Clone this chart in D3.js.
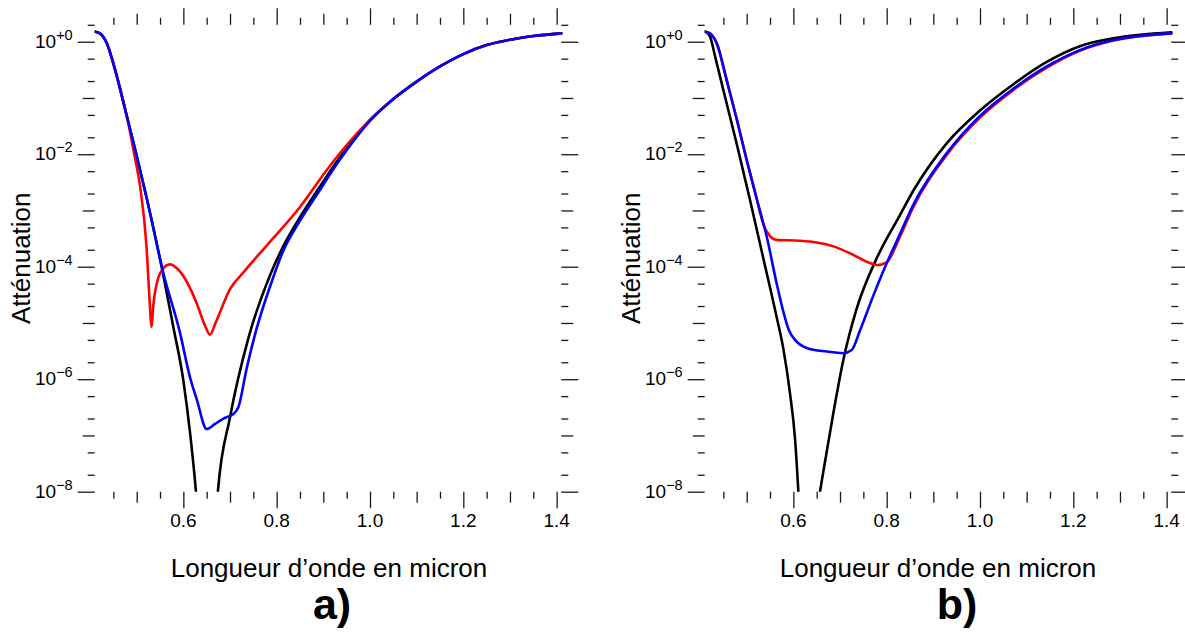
<!DOCTYPE html>
<html><head><meta charset="utf-8">
<script src="https://cdn.jsdelivr.net/npm/d3@7"></script>
<style>
html,body{margin:0;padding:0;background:#fff;}
svg{display:block;font-family:"Liberation Sans",Arial,Helvetica,sans-serif;}
</style></head>
<body>
<svg id="chart" width="1185" height="639"></svg>
<script>
// ---------- DATA ----------
const xTickMajor = [0.6, 0.8, 1.0, 1.2, 1.4];
const xTickLabels = ["0.6", "0.8", "1.0", "1.2", "1.4"];
const xTickMid = [0.5, 0.7, 0.9, 1.1, 1.3];
const xTickMinor = [0.45, 0.55, 0.65, 0.75, 0.85, 0.95, 1.05, 1.15, 1.25, 1.35];
const yTickMajor = [1e0, 1e-2, 1e-4, 1e-6, 1e-8];
const yTickExp = ["+0", "\u22122", "\u22124", "\u22126", "\u22128"];
const yTickMid = [1e-1, 1e-3, 1e-5, 1e-7];
const yTickMinor = [2, 0.5, 0.2, 0.05, 0.02, 5e-3, 2e-3, 5e-4, 2e-4, 5e-5, 2e-5, 5e-6, 2e-6, 5e-7, 2e-7, 5e-8, 2e-8];
const xTitle = "Longueur d\u2019onde en micron";
const yTitle = "Att\u00e9nuation";

// panel a)
const aBlackLeftLambda = [0.411, 0.421, 0.436, 0.450, 0.479, 0.499, 0.522, 0.554, 0.578, 0.600, 0.615, 0.627, 0.636];
const aBlackLeftAtt    = [1.51, 1.41, 0.94, 0.41, 0.047, 0.0102, 0.00158, 9.5e-5, 8.9e-6, 9.5e-7, 1.0e-7, 1.0e-8, 1.0e-9];
const aBlackRightLambda = [0.664, 0.674, 0.700, 0.740, 0.786, 0.814, 0.850, 0.886, 0.907, 0.936, 0.957, 0.972, 1.000, 1.050, 1.100, 1.150, 1.200, 1.250, 1.307, 1.350, 1.410];
const aBlackRightAtt    = [5e-10, 1.0e-8, 2.1e-7, 5.6e-6, 7.1e-5, 2.3e-4, 7.6e-4, 2.2e-3, 4.0e-3, 8.9e-3, 0.0148, 0.0219, 0.0407, 0.0955, 0.195, 0.363, 0.603, 0.871, 1.11, 1.26, 1.41];
const aBlueLambda = [0.411, 0.421, 0.436, 0.450, 0.479, 0.499, 0.522, 0.557, 0.593, 0.614, 0.629, 0.650, 0.668, 0.686, 0.707, 0.718, 0.736, 0.757, 0.786, 0.814, 0.850, 0.886, 0.936, 1.000, 1.050, 1.100, 1.150, 1.200, 1.250, 1.307, 1.350, 1.410];
const aBlueAtt    = [1.51, 1.41, 0.94, 0.41, 0.047, 0.0102, 0.00158, 7.8e-5, 6.6e-6, 1.1e-6, 4.3e-7, 1.3e-7, 1.6e-7, 2.0e-7, 2.4e-7, 3.2e-7, 1.6e-6, 7.9e-6, 4.5e-5, 1.9e-4, 6.6e-4, 1.9e-3, 8.1e-3, 0.039, 0.0955, 0.195, 0.363, 0.603, 0.871, 1.11, 1.26, 1.41];
const aRedLambda = [0.411, 0.421, 0.436, 0.450, 0.479, 0.496, 0.507, 0.5215, 0.5275, 0.532, 0.5357, 0.543, 0.554, 0.571, 0.596, 0.629, 0.646, 0.657, 0.670, 0.700, 0.7285, 0.779, 0.850, 0.907, 0.957, 1.000, 1.050, 1.100, 1.150, 1.200, 1.250, 1.307, 1.350, 1.410];
const aRedAtt    = [1.51, 1.41, 0.94, 0.41, 0.047, 8.9e-3, 2.8e-3, 2.0e-4, 2.6e-5, 8.5e-6, 2.1e-5, 5.0e-5, 8.7e-5, 1.1e-4, 7.6e-5, 2.2e-5, 9.1e-6, 6.2e-6, 1.05e-5, 4.0e-5, 7.9e-5, 2.4e-4, 1.15e-3, 5.2e-3, 0.0170, 0.0407, 0.0955, 0.195, 0.363, 0.603, 0.871, 1.11, 1.26, 1.41];

// panel b)
const bBlackLeftLambda = [0.411, 0.421, 0.432, 0.450, 0.479, 0.507, 0.5357, 0.5643, 0.5785, 0.5928, 0.6035, 0.6107, 0.618];
const bBlackLeftAtt    = [1.51, 1.26, 0.56, 0.138, 0.0148, 0.00155, 1.4e-4, 1.26e-5, 3.5e-6, 5.6e-7, 8.9e-8, 1.0e-8, 6.3e-10];
const bBlackRightLambda = [0.650, 0.657, 0.6857, 0.7071, 0.7357, 0.7786, 0.8285, 0.857, 0.929, 1.000, 1.071, 1.143, 1.214, 1.286, 1.410];
const bBlackRightAtt    = [4.5e-9, 1.0e-8, 2.5e-7, 2.2e-6, 1.8e-5, 1.41e-4, 8.3e-4, 2.24e-3, 0.0158, 0.060, 0.174, 0.437, 0.832, 1.148, 1.47];
const bBlueLambda = [0.411, 0.421, 0.436, 0.457, 0.479, 0.500, 0.522, 0.543, 0.5643, 0.5786, 0.590, 0.6036, 0.6286, 0.6714, 0.7071, 0.725, 0.743, 0.771, 0.800, 0.829, 0.857, 0.929, 1.000, 1.071, 1.143, 1.214, 1.286, 1.410];
const bBlueAtt    = [1.51, 1.41, 0.93, 0.21, 0.041, 0.0079, 0.00155, 3.4e-4, 5.0e-5, 1.58e-5, 7.6e-6, 5.0e-6, 3.6e-6, 3.1e-6, 2.9e-6, 3.3e-6, 7.4e-6, 3.0e-5, 1.15e-4, 3.9e-4, 1.26e-3, 0.0105, 0.048, 0.145, 0.363, 0.71, 1.07, 1.41];
const bRedLambda = [0.411, 0.421, 0.436, 0.457, 0.479, 0.500, 0.522, 0.536, 0.550, 0.564, 0.614, 0.650, 0.686, 0.721, 0.757, 0.7786, 0.800, 0.829, 0.857, 0.929, 1.000, 1.071, 1.143, 1.214, 1.286, 1.410];
const bRedAtt    = [1.51, 1.41, 0.93, 0.21, 0.041, 0.0079, 0.00155, 5.6e-4, 3.5e-4, 3.0e-4, 2.9e-4, 2.7e-4, 2.3e-4, 1.74e-4, 1.23e-4, 1.07e-4, 1.2e-4, 3.5e-4, 1.15e-3, 9.8e-3, 0.0447, 0.138, 0.347, 0.692, 1.05, 1.41];

// ---------- LAYOUT ----------
const yTop = 24.8, yBot = 491.7;
const panels = [
  { id: "a", x0: 94.7, x1: 561.3, caption: "a)", captionX: 332, titleX: 329,
    series: [
      { lam: aBlackLeftLambda, att: aBlackLeftAtt, color: "#000000" },
      { lam: aBlackRightLambda, att: aBlackRightAtt, color: "#000000" },
      { lam: aRedLambda, att: aRedAtt, color: "#ff0000" },
      { lam: aBlueLambda, att: aBlueAtt, color: "#0000ff" } ] },
  { id: "b", x0: 704.7, x1: 1171.3, caption: "b)", captionX: 957, titleX: 938,
    series: [
      { lam: bBlackLeftLambda, att: bBlackLeftAtt, color: "#000000" },
      { lam: bBlackRightLambda, att: bBlackRightAtt, color: "#000000" },
      { lam: bRedLambda, att: bRedAtt, color: "#ff0000" },
      { lam: bBlueLambda, att: bBlueAtt, color: "#0000ff" } ] }
];

const svg = d3.select("#chart");
const tickColor = "#1a1a1a";

function styleAxis(g) {
  g.select(".domain").remove();
  g.selectAll(".tick line").attr("stroke", tickColor).attr("stroke-width", 1.3);
  g.selectAll(".tick text").remove();
}

panels.forEach(p => {
  const x = d3.scaleLinear().domain([0.41, 1.41]).range([p.x0, p.x1]);
  const y = d3.scaleLog().domain([1e-8, 2]).range([yBot, yTop]);
  const g = svg.append("g");

  // ticks on all four sides (outward)
  const tickSets = [[xTickMajor, 16.5], [xTickMid, 11], [xTickMinor, 7]];
  tickSets.forEach(([vals, len]) => {
    g.append("g").attr("transform", `translate(0,${yBot})`)
      .call(d3.axisBottom(x).tickValues(vals).tickSize(len).tickFormat("")).call(styleAxis);
    g.append("g").attr("transform", `translate(0,${yTop})`)
      .call(d3.axisTop(x).tickValues(vals).tickSize(len).tickFormat("")).call(styleAxis);
  });
  const yTickSets = [[yTickMajor, 17], [yTickMid, 12], [yTickMinor, 7]];
  yTickSets.forEach(([vals, len]) => {
    g.append("g").attr("transform", `translate(${p.x0},0)`)
      .call(d3.axisLeft(y).tickValues(vals).tickSize(len).tickFormat("")).call(styleAxis);
    g.append("g").attr("transform", `translate(${p.x1},0)`)
      .call(d3.axisRight(y).tickValues(vals).tickSize(len).tickFormat("")).call(styleAxis);
  });

  // x tick labels
  g.selectAll(".xl").data(xTickMajor).enter().append("text")
    .attr("x", d => x(d)).attr("y", 527)
    .attr("text-anchor", "middle").attr("font-size", 19).attr("fill", "#000")
    .text((d, i) => xTickLabels[i]);

  // y tick labels 10^n
  yTickMajor.forEach((v, i) => {
    const t = g.append("text").attr("x", p.x0 - 22).attr("y", y(v) + 6)
      .attr("text-anchor", "end").attr("font-size", 19).attr("fill", "#000");
    t.append("tspan").text("10");
    t.append("tspan").attr("dy", -8).attr("font-size", 14.5).text(yTickExp[i]);
  });

  // axis titles
  g.append("text").attr("x", p.titleX).attr("y", 577).attr("text-anchor", "middle")
    .attr("font-size", 26).attr("fill", "#000").text(xTitle);
  g.append("text").attr("transform", `translate(${p.x0 - 65},${(yTop + yBot) / 2}) rotate(-90)`)
    .attr("text-anchor", "middle").attr("font-size", 26).attr("fill", "#000").text(yTitle);
  g.append("text").attr("x", p.captionX).attr("y", 619).attr("text-anchor", "middle")
    .attr("font-size", 43).attr("font-weight", "bold").attr("fill", "#000").text(p.caption);

  // clip
  svg.append("clipPath").attr("id", "clip-" + p.id).append("rect")
    .attr("x", p.x0).attr("y", yTop - 10).attr("width", p.x1 - p.x0 + 3).attr("height", yBot - yTop + 10);

  const line = d3.line().x(d => x(d[0])).y(d => y(d[1])).curve(d3.curveMonotoneX);
  const cg = g.append("g").attr("clip-path", `url(#clip-${p.id})`);
  p.series.forEach(s => {
    const pts = s.lam.map((l, i) => [l, s.att[i]]);
    cg.append("path").attr("d", line(pts)).attr("fill", "none")
      .attr("stroke", s.color).attr("stroke-width", 2.6)
      .attr("stroke-linejoin", "round").attr("stroke-linecap", "round");
  });
});
</script>
</body></html>
